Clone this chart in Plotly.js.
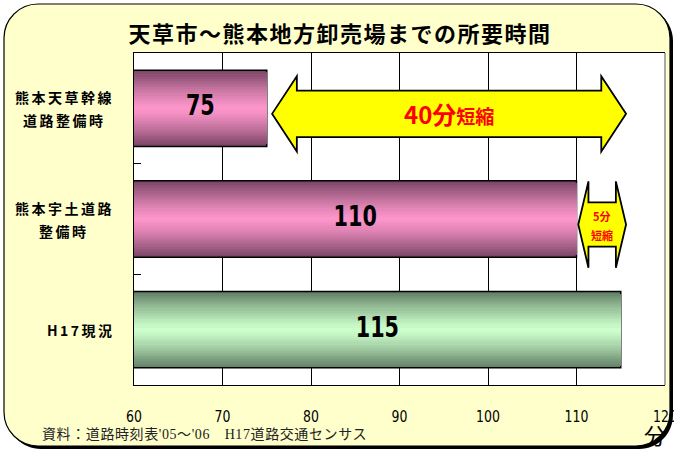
<!DOCTYPE html>
<html>
<head>
<meta charset="utf-8">
<script src="https://cdn.plot.ly/plotly-3.0.1.min.js"></script>
<style>html,body{margin:0;padding:0;background:#fff;}#chart{width:674px;height:450px;}</style>
</head>
<body>
<div id="chart"></div>
<script>
// ---- data ----
const chartTitle = '天草市～熊本地方卸売場までの所要時間';
const categoryLines = [['熊本天草幹線', '道路整備時'], ['熊本宇土道路', '整備時'], ['H17現況']];
const minutes = [75, 110, 115];
const xTickVals = [60, 70, 80, 90, 100, 110, 120];
const xTickText = ['60', '70', '80', '90', '100', '110', '120'];
const unitLabel = '分';
const sourceNote = "資料：道路時刻表'05～'06　H17道路交通センサス";
const shortenWord = '短縮';

// ---- style / geometry ----
const W = 674, H = 450;
const M = {l: 134, r: 9, t: 53, b: 65};
const PW = W - M.l - M.r, PH = H - M.t - M.b;
const px2x = p => (p - M.l) / PW;
const py2y = p => (H - M.b - p) / PH;
const xRange = [xTickVals[0], xTickVals[xTickVals.length - 1]];
const yIdx = minutes.map((_, i) => i);
const barW = 0.69;
const numFont = '"DejaVu Sans", sans-serif';
const jp = '"Noto Sans CJK JP", sans-serif';

const lightCols = ['#fd96cb', '#fd96cb', '#ccffcc'];
const darkCols = ['#774363', '#774363', '#5f7d63'];
function hex(c) { return [1, 3, 5].map(i => parseInt(c.substr(i, 2), 16)); }
function mix(a, b, f) {
  const A = hex(a), B = hex(b);
  return 'rgb(' + A.map((v, i) => Math.round(v + (B[i] - v) * f)).join(',') + ')';
}

const traces = [];
const N = 18;
for (let k = 0; k < N; k++) {
  const t = 1 - (k + 0.5) / N;
  const f = Math.pow(t, 1.25);
  traces.push({
    type: 'bar', orientation: 'h',
    x: minutes, y: yIdx,
    width: barW * (1 - k / N),
    marker: {
      color: minutes.map((_, i) => mix(lightCols[i], darkCols[i], f)),
      line: {color: 'black', width: k === 0 ? 1.5 : 0}
    },
    hoverinfo: 'skip', showlegend: false
  });
}
traces.push({
  type: 'scatter', mode: 'text',
  x: minutes.map(v => (xRange[0] + v) / 2), y: yIdx,
  text: minutes.map(String), textposition: 'middle center',
  textfont: {family: numFont, size: 28, weight: 'bold', color: 'black'},
  cliponaxis: false, hoverinfo: 'skip', showlegend: false
});

// double arrow path in data units
function dblArrow(x0, x1, yc, shaftH, headH, headL) {
  const p = [[x0, yc], [x0 + headL, yc - headH], [x0 + headL, yc - shaftH], [x1 - headL, yc - shaftH],
             [x1 - headL, yc - headH], [x1, yc], [x1 - headL, yc + headH], [x1 - headL, yc + shaftH],
             [x0 + headL, yc + shaftH], [x0 + headL, yc + headH]];
  return 'M' + p.map(q => q[0] + ',' + q[1]).join(' L') + ' Z';
}
function roundRect(x0, y0, x1, y1, r) {
  const k = 0.5523 * r;
  const pts = [
    `M${px2x(x0 + r)},${py2y(y0)}`, `L${px2x(x1 - r)},${py2y(y0)}`,
    `C${px2x(x1 - r + k)},${py2y(y0)} ${px2x(x1)},${py2y(y0 + r - k)} ${px2x(x1)},${py2y(y0 + r)}`,
    `L${px2x(x1)},${py2y(y1 - r)}`,
    `C${px2x(x1)},${py2y(y1 - r + k)} ${px2x(x1 - r + k)},${py2y(y1)} ${px2x(x1 - r)},${py2y(y1)}`,
    `L${px2x(x0 + r)},${py2y(y1)}`,
    `C${px2x(x0 + r - k)},${py2y(y1)} ${px2x(x0)},${py2y(y1 - r + k)} ${px2x(x0)},${py2y(y1 - r)}`,
    `L${px2x(x0)},${py2y(y0 + r)}`,
    `C${px2x(x0)},${py2y(y0 + r - k)} ${px2x(x0 + r - k)},${py2y(y0)} ${px2x(x0 + r)},${py2y(y0)}`, 'Z'];
  return pts.join(' ');
}

const diffBig = minutes[2] - minutes[0];
const diffSmall = minutes[2] - minutes[1];
const arrowShift = 0.6, yOff = 0.05;

const shapes = [
  {type: 'path', xref: 'paper', yref: 'paper', layer: 'below', path: roundRect(7, 7, 673, 449, 34),
   fillcolor: 'black', line: {width: 0}},
  {type: 'path', xref: 'paper', yref: 'paper', layer: 'below', path: roundRect(4, 4, 670, 446, 34),
   fillcolor: '#ffffcc', line: {color: 'black', width: 1.2}},
  {type: 'rect', xref: 'paper', yref: 'paper', layer: 'below', x0: 0, x1: 1, y0: 0, y1: 1,
   fillcolor: 'white', line: {width: 0}},
  {type: 'line', xref: 'paper', yref: 'paper', x0: 1, x1: 1, y0: 0, y1: 1, layer: 'above',
   line: {color: '#a8a8a8', width: 2}},
  {type: 'path', xref: 'x', yref: 'y', layer: 'above',
   path: dblArrow(minutes[0] + arrowShift, minutes[2] + arrowShift, 0 + yOff, 0.21, 0.34, 2.8),
   fillcolor: '#ffff00', line: {color: 'black', width: 1.8}},
  {type: 'path', xref: 'x', yref: 'y', layer: 'above',
   path: dblArrow(minutes[1] + 0.2, minutes[2] + arrowShift, 1 + yOff, 0.2, 0.39, 1.15),
   fillcolor: '#ffff00', line: {color: 'black', width: 1.8}}
];

const annotations = [];
categoryLines.forEach((lines, i) => {
  if (lines.length > 1) {
    lines.forEach((ln, j) => {
      annotations.push({xref: 'paper', yref: 'y', x: px2x(64), y: i, xanchor: 'center', yanchor: 'middle',
        yshift: (j === 0 ? 11.5 : -11.5), showarrow: false,
        text: '<span style="letter-spacing:2.5px">' + ln + '</span>',
        font: {family: jp, size: 14, weight: 'bold', color: 'black'}});
    });
  } else {
    annotations.push({xref: 'paper', yref: 'y', x: px2x(117), y: i, xanchor: 'right', yanchor: 'middle',
      showarrow: false, text: '<span style="letter-spacing:2.5px">' + lines[0] + '</span>',
      font: {family: jp, size: 14, weight: 'bold', color: 'black'}});
  }
});
annotations.push({xref: 'x', yref: 'y', x: (minutes[0] + minutes[2]) / 2 + arrowShift, y: 0 + yOff,
  showarrow: false, xanchor: 'center', yanchor: 'middle',
  text: '<b><span style="font-size:24px">' + diffBig + '分</span>' + shortenWord + '</b>',
  font: {family: jp, size: 19, color: '#ff0000'}});
annotations.push({xref: 'x', yref: 'y', x: (minutes[1] + minutes[2]) / 2 + 0.4, y: 1 + yOff, yshift: 9,
  showarrow: false, xanchor: 'center', yanchor: 'middle', text: '<b>' + diffSmall + '分</b>',
  font: {family: jp, size: 11, color: '#ff0000'}});
annotations.push({xref: 'x', yref: 'y', x: (minutes[1] + minutes[2]) / 2 + 0.4, y: 1 + yOff, yshift: -10,
  showarrow: false, xanchor: 'center', yanchor: 'middle', text: '<b>' + shortenWord + '</b>',
  font: {family: jp, size: 11, color: '#ff0000'}});
annotations.push({xref: 'paper', yref: 'paper', x: px2x(40), y: py2y(434), xanchor: 'left', yanchor: 'middle',
  showarrow: false, text: '<span style="letter-spacing:0.6px">' + sourceNote + '</span>',
  font: {family: '"Liberation Serif", "Noto Sans CJK JP", serif', size: 14, color: '#222'}});
annotations.push({xref: 'paper', yref: 'paper', x: px2x(655), y: py2y(434), xanchor: 'center', yanchor: 'middle',
  showarrow: false, text: unitLabel, font: {family: jp, size: 22, color: 'black'}});

const layout = {
  width: W, height: H,
  margin: M,
  paper_bgcolor: 'white', plot_bgcolor: 'rgba(0,0,0,0)',
  barmode: 'overlay', bargap: 0,
  showlegend: false,
  title: {text: '<span style="letter-spacing:1.5px">' + chartTitle + '</span>', xref: 'container', yref: 'container',
    x: 340 / W, y: 1 - 34 / H, xanchor: 'center', yanchor: 'middle',
    font: {family: jp, size: 22, weight: 'bold', color: 'black'}},
  xaxis: {range: xRange, tickmode: 'array', tickvals: xTickVals, ticktext: xTickText,
    showgrid: true, gridcolor: 'black', gridwidth: 1, zeroline: false,
    showline: true, linecolor: 'black', linewidth: 1.2, mirror: true,
    ticks: '', ticklabelstandoff: 17, ticklabeloverflow: 'allow',
    tickfont: {family: numFont, size: 16, color: 'black'}},
  yaxis: {range: [2.5, -0.5], tickmode: 'array', tickvals: yIdx, showticklabels: false,
    ticks: '', showgrid: false, zeroline: false, showline: true, linecolor: 'black', linewidth: 1.2,
    minor: {tickmode: 'array', tickvals: [0.5, 1.5], ticks: 'inside', ticklen: 7, tickcolor: 'black',
      tickwidth: 1, showgrid: false}},
  shapes: shapes,
  annotations: annotations
};

function condense(sel, factor) {
  document.querySelectorAll(sel).forEach(t => {
    const L = t.getComputedTextLength();
    if (L > 0) {
      t.setAttribute('textLength', (L * factor).toFixed(2));
      t.setAttribute('lengthAdjust', 'spacingAndGlyphs');
    }
  });
}
Plotly.newPlot('chart', traces, layout, {displayModeBar: false, staticPlot: true}).then(() => {
  condense('#chart .xtick text', 0.78);
  condense('#chart .textpoint text', 0.74);
});
</script>
</body>
</html>
